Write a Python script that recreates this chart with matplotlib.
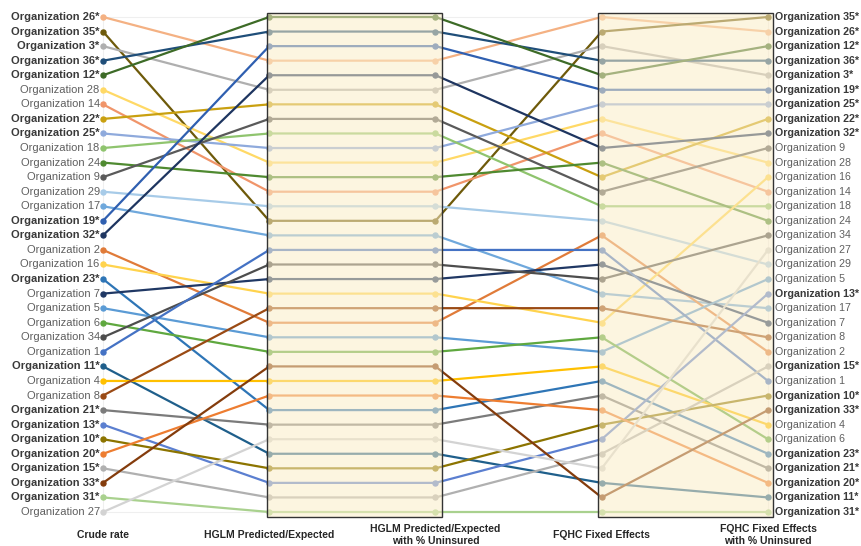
import matplotlib
matplotlib.use("Agg")
import matplotlib.pyplot as plt
from matplotlib.patches import Rectangle

plt.rcParams['font.family'] = ['Liberation Sans', 'DejaVu Sans']

# ---- data (organisations listed in crude-rate order) ----
orgs = ["Organization 26*", "Organization 35*", "Organization 3*", "Organization 36*",
        "Organization 12*", "Organization 28", "Organization 14", "Organization 22*",
        "Organization 25*", "Organization 18", "Organization 24", "Organization 9",
        "Organization 29", "Organization 17", "Organization 19*", "Organization 32*",
        "Organization 2", "Organization 16", "Organization 23*", "Organization 7",
        "Organization 5", "Organization 6", "Organization 34", "Organization 1",
        "Organization 11*", "Organization 4", "Organization 8", "Organization 21*",
        "Organization 13*", "Organization 10*", "Organization 20*", "Organization 15*",
        "Organization 33*", "Organization 31*", "Organization 27"]

crude_rank = [1, 2, 3, 4, 5, 6, 7, 8, 9, 10, 11, 12, 13, 14, 15, 16, 17, 18,
              19, 20, 21, 22, 23, 24, 25, 26, 27, 28, 29, 30, 31, 32, 33, 34, 35]
hglm_rank = [4, 15, 6, 2, 1, 11, 13, 7, 10, 9, 12, 8, 14, 16, 3, 5, 22, 20,
             28, 19, 23, 24, 18, 17, 31, 26, 21, 29, 33, 32, 27, 34, 25, 35, 30]
hglm_unins_rank = [4, 15, 6, 2, 1, 11, 13, 7, 10, 9, 12, 8, 14, 16, 3, 5, 22, 20,
                   28, 19, 23, 24, 18, 17, 31, 26, 21, 29, 33, 32, 27, 34, 25, 35, 30]
fqhc_rank = [1, 2, 3, 4, 5, 8, 9, 12, 7, 14, 11, 13, 15, 20, 6, 10, 16, 22,
             26, 18, 24, 23, 19, 17, 33, 25, 21, 27, 30, 29, 28, 31, 34, 35, 32]
fqhc_unins_rank = [2, 1, 5, 4, 3, 11, 13, 8, 7, 14, 15, 10, 18, 21, 6, 9, 24, 12,
                   31, 22, 19, 30, 16, 26, 34, 29, 23, 32, 20, 27, 33, 25, 28, 35, 17]

columns = ["Crude rate", "HGLM Predicted/Expected",
           "HGLM Predicted/Expected\nwith % Uninsured", "FQHC Fixed Effects",
           "FQHC Fixed Effects\nwith % Uninsured"]

colors = ["#f4b183", "#6e5a0a", "#afafaf", "#1f4e79", "#3d6b27", "#ffd966",
          "#f0956a", "#c9a010", "#8faadc", "#8fc46e", "#4f8a30", "#5a5a5a",
          "#a7cbe8", "#6fa8dc", "#2f5fb0", "#1e3560", "#e07b39", "#ffd34d",
          "#2e75b6", "#203864", "#5b9bd5", "#5fa83f", "#4d4d4d", "#4472c4",
          "#1f5f8b", "#ffc000", "#9a4a14", "#7b7b7b", "#5b7fd0", "#8c7400",
          "#ed7d31", "#b0b0b0", "#843c0c", "#a9d18e", "#d3d3d3"]

# ---- figure ----
fig = plt.figure(figsize=(8.62, 5.46), dpi=100)
ax = fig.add_axes([0, 0, 1, 1])
ax.set_xlim(-103 / 166.25, (862 - 103) / 166.25)
ax.set_ylim(1 + 529 / 14.5588, 1 - 17 / 14.5588)
ax.axis('off')

xs = list(range(len(columns)))
n = len(orgs)

# faint frame of plot area
ax.add_patch(Rectangle((0, 1), 4, n - 1, fill=False, edgecolor='#efefef',
                       lw=0.8, zorder=0))

for i in range(n):
    ys = [crude_rank[i], hglm_rank[i], hglm_unins_rank[i], fqhc_rank[i], fqhc_unins_rank[i]]
    ax.plot(xs, ys, color=colors[i], lw=1.6, marker='o', markersize=3.6,
            solid_capstyle='round', zorder=2)

# highlight boxes
for x0, x1 in [(0.985, 2.04), (2.975, 4.03)]:
    ax.add_patch(Rectangle((x0, 0.7), x1 - x0, n - 1 + 0.65, facecolor='#fbedc8',
                           alpha=0.55, edgecolor='none', zorder=3))
    ax.add_patch(Rectangle((x0, 0.7), x1 - x0, n - 1 + 0.65, fill=False,
                           edgecolor='#333333', lw=1.0, zorder=4))

# labels
for i in range(n):
    bold = orgs[i].endswith('*')
    ax.text(-0.02, crude_rank[i], orgs[i], ha='right', va='center', fontsize=8,
            fontweight='bold' if bold else 'normal',
            color='#3a3a3a' if bold else '#5f5f5f', zorder=5)
    ax.text(4.04, fqhc_unins_rank[i], orgs[i], ha='left', va='center', fontsize=7.7,
            fontweight='bold' if bold else 'normal',
            color='#3a3a3a' if bold else '#5f5f5f', zorder=5)

for x, lab in zip(xs, columns):
    ax.text(x, 36.55, lab, ha='center', va='center', fontsize=7.5,
            fontweight='bold', color='#262626', linespacing=1.25)

fig.savefig("out.png", dpi=100)
